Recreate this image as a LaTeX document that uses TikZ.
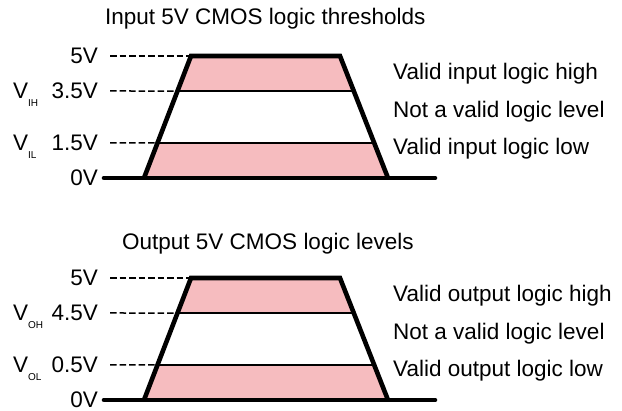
\documentclass[tikz,border=0pt]{standalone}
\usepackage{fontspec}
\setmainfont{Liberation Sans}
\usetikzlibrary{calc}
\definecolor{LevelPink}{RGB}{246,188,191}
\tikzset{
  rail/.style={draw=black,line width=4.6pt},
  split/.style={draw=black,line width=1.8pt},
  guide/.style={draw=black,line width=1.5pt,dash pattern=on 6.5pt off 3pt},
  band/.style={fill=LevelPink},
}
\tikzset{volt/.style={anchor=base east,inner sep=0pt,font=\fontsize{22.5}{27}\selectfont},
  sym/.style={anchor=base west,inner sep=0pt,font=\fontsize{22.5}{27}\selectfont},
  zone/.style={anchor=base west,inner sep=0pt,font=\fontsize{22.5}{27}\selectfont},
  heading/.style={anchor=base west,inner sep=0pt,font=\fontsize{22.5}{27}\selectfont}}
\newcommand{\lvlsym}[1]{V\raisebox{-8pt}{\fontsize{10}{10}\selectfont #1}}

\begin{document}
\begin{tikzpicture}[x=1pt,y=-1pt]
\useasboundingbox (0,0) rectangle (622,411);
% input thresholds
\node[heading] (inTitle) at (105,25) {Input 5V CMOS logic thresholds};
\coordinate (iTL) at (191,56);
\coordinate (iTR) at (340,56);
\coordinate (iBL) at (144,178);
\coordinate (iBR) at (388,178);
\coordinate (iHL) at ($(iTL)!0.287!(iBL)$);
\coordinate (iHR) at ($(iTR)!0.287!(iBR)$);
\coordinate (iLL) at ($(iTL)!0.713!(iBL)$);
\coordinate (iLR) at ($(iTR)!0.713!(iBR)$);
\coordinate (iG0) at (104,178);
\coordinate (iG1) at (435,178);
\coordinate (iD5) at (110,56);
\coordinate (iDH) at (110,91);
\coordinate (iDL) at (110,143);
\fill[band] (iTL) -- (iTR) -- (iHR) -- (iHL) -- cycle;
\fill[band] (iLL) -- (iLR) -- (iBR) -- (iBL) -- cycle;
\draw[split] (iHL) -- (iHR);
\draw[split] (iLL) -- (iLR);
\draw[guide] (iD5) -- (iTL);
\draw[guide] (iDH) -- (iHL);
\draw[guide] (iDL) -- (iLL);
\draw[rail] (iBL) -- (iTL) -- (iTR) -- (iBR);
\draw[rail,line cap=round] (iG0) -- (iG1);
\node[volt] (iV5) at (98,63.5) {5V};
\node[volt] (iV35) at (98,98.5) {3.5V};
\node[volt] (iV15) at (98,150.5) {1.5V};
\node[volt] (iV0) at (98,185.5) {0V};
\node[sym] (iVIH) at (13,98.5) {\lvlsym{IH}};
\node[sym] (iVIL) at (13,150.5) {\lvlsym{IL}};
\node[zone] (iHigh) at (393,80) {Valid input logic high};
\node[zone] (iMid) at (393,118) {Not a valid logic level};
\node[zone] (iLow) at (393,155) {Valid input logic low};
% output levels
\node[heading] (outTitle) at (122,250) {Output 5V CMOS logic levels};
\coordinate (oTL) at (191,278);
\coordinate (oTR) at (340,278);
\coordinate (oBL) at (144,400);
\coordinate (oBR) at (388,400);
\coordinate (oHL) at ($(oTL)!0.287!(oBL)$);
\coordinate (oHR) at ($(oTR)!0.287!(oBR)$);
\coordinate (oLL) at ($(oTL)!0.713!(oBL)$);
\coordinate (oLR) at ($(oTR)!0.713!(oBR)$);
\coordinate (oG0) at (104,400);
\coordinate (oG1) at (435,400);
\coordinate (oD5) at (110,278);
\coordinate (oDH) at (110,313);
\coordinate (oDL) at (110,365);
\fill[band] (oTL) -- (oTR) -- (oHR) -- (oHL) -- cycle;
\fill[band] (oLL) -- (oLR) -- (oBR) -- (oBL) -- cycle;
\draw[split] (oHL) -- (oHR);
\draw[split] (oLL) -- (oLR);
\draw[guide] (oD5) -- (oTL);
\draw[guide] (oDH) -- (oHL);
\draw[guide] (oDL) -- (oLL);
\draw[rail] (oBL) -- (oTL) -- (oTR) -- (oBR);
\draw[rail,line cap=round] (oG0) -- (oG1);
\node[volt] (oV5) at (98,285.5) {5V};
\node[volt] (oV45) at (98,320.5) {4.5V};
\node[volt] (oV05) at (98,372.5) {0.5V};
\node[volt] (oV0) at (98,407.5) {0V};
\node[sym] (oVOH) at (13,320.5) {\lvlsym{OH}};
\node[sym] (oVOL) at (13,372.5) {\lvlsym{OL}};
\node[zone] (oHigh) at (393,302) {Valid output logic high};
\node[zone] (oMid) at (393,340) {Not a valid logic level};
\node[zone] (oLow) at (393,377) {Valid output logic low};
\end{tikzpicture}
\end{document}
